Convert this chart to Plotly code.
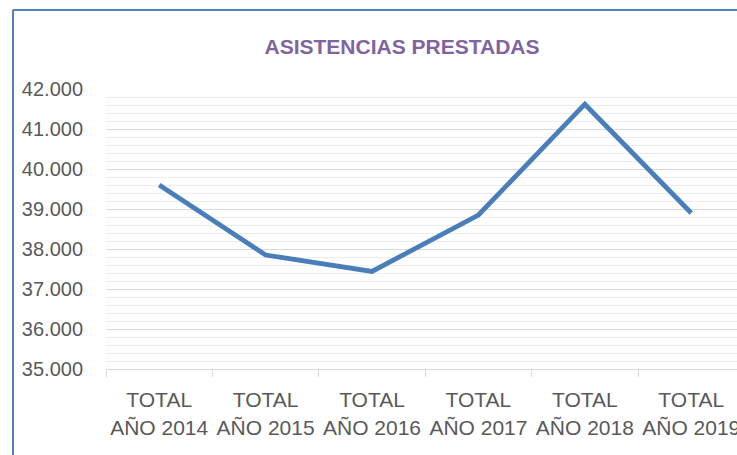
import plotly.graph_objects as go

categories = ["TOTAL<br>AÑO 2014", "TOTAL<br>AÑO 2015", "TOTAL<br>AÑO 2016",
              "TOTAL<br>AÑO 2017", "TOTAL<br>AÑO 2018", "TOTAL<br>AÑO 2019"]
asistencias = [39600, 37850, 37440, 38850, 41620, 38900]
title_text = "ASISTENCIAS PRESTADAS"

W, H = 737, 455
L, T, B = 106, 89, 86
plot_w = W - L
plot_h = H - T - B

fig = go.Figure()
fig.add_trace(go.Scatter(
    x=categories, y=asistencias, mode="lines",
    line=dict(color="#4A7EBB", width=4.8),
    showlegend=False,
))

x_left = (13 - L) / plot_w
y_top = (plot_h + T - 10) / plot_h

fig.update_layout(
    width=W, height=H,
    margin=dict(l=L, r=0, t=T, b=B, autoexpand=False),
    paper_bgcolor="white", plot_bgcolor="white",
    separators=",.",
    title=dict(text="<b>" + title_text + "</b>", x=402 / W, xanchor="center",
               y=1 - 47 / H, yanchor="middle",
               font=dict(family="Liberation Sans Narrow, Liberation Sans, Arial", size=21, color="#8064A2")),
    font=dict(family="Liberation Sans, Arial", size=20, color="#595959"),
    xaxis=dict(
        type="category",
        range=[-0.5, 5.43],
        automargin=False,
        tickangle=0,
        showgrid=False,
        showline=True, linecolor="#d9d9d9", linewidth=1,
        ticks="outside", tickson="boundaries", ticklen=7, tickcolor="#d9d9d9",
        ticklabelstandoff=12,
        tickfont=dict(size=21, color="#595959"),
        fixedrange=True,
    ),
    yaxis=dict(
        range=[35000, 42000],
        automargin=False,
        dtick=1000,
        tickformat=",d",
        showgrid=True, gridcolor="#d9d9d9", gridwidth=1,
        minor=dict(dtick=200, showgrid=True, gridcolor="#ededed", gridwidth=1),
        zeroline=False,
        showline=False,
        ticks="",
        ticklabelstandoff=22,
        tickfont=dict(size=20, color="#595959"),
    ),
    shapes=[
        dict(type="line", xref="paper", yref="paper",
             x0=x_left, x1=1.2, y0=y_top, y1=y_top,
             line=dict(color="#4F81BD", width=2), layer="below"),
        dict(type="line", xref="paper", yref="paper",
             x0=x_left, x1=x_left, y0=-1.0, y1=y_top,
             line=dict(color="#4F81BD", width=2), layer="below"),
    ],
)

fig.write_html("out.html",
               config={"displayModeBar": False},
               post_script="document.body.style.margin='0';document.body.style.overflow='hidden';")
